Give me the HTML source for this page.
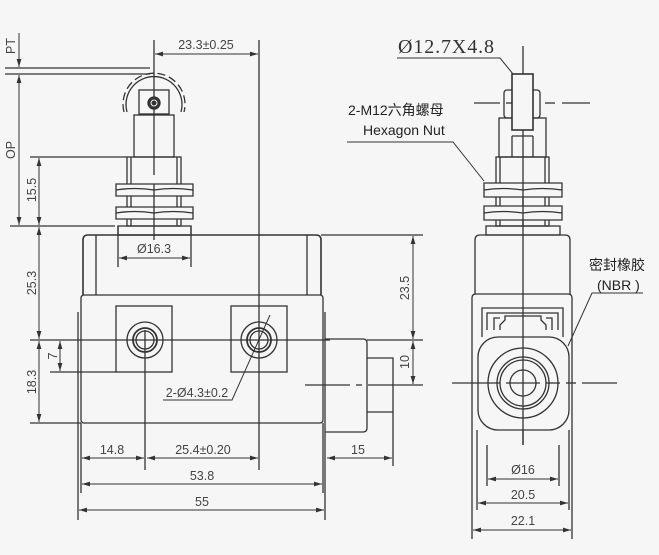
<!DOCTYPE html>
<html><head><meta charset="utf-8"><style>
html,body{margin:0;padding:0;background:#f6f6f6;}
svg{display:block}
.t{font-family:"Liberation Sans","DejaVu Sans",sans-serif;fill:#444;font-size:12.5px}
.c{font-family:"Liberation Sans","Noto Sans CJK SC",sans-serif;fill:#222;font-size:14px}
.s{font-family:"Liberation Serif","DejaVu Serif",serif;fill:#333;font-size:20px}
</style></head><body>
<svg width="659" height="555" viewBox="0 0 659 555" xmlns="http://www.w3.org/2000/svg">
<defs>
<marker id="a" viewBox="0 0 10 6" refX="10" refY="3" markerWidth="8" markerHeight="5" orient="auto-start-reverse" markerUnits="userSpaceOnUse"><path d="M0,0 L10,3 L0,6 z" fill="#333"/></marker>
</defs>
<rect width="659" height="555" fill="#f6f6f6"/>
<g stroke="#333" stroke-width="1.3" fill="none">
<line x1="154" y1="40" x2="154" y2="175"/>
<line x1="259" y1="40" x2="259" y2="470"/>
<line x1="155" y1="54" x2="258" y2="54" marker-start="url(#a)" marker-end="url(#a)" stroke-width="1"/>
<line x1="19" y1="33" x2="19" y2="67" marker-end="url(#a)" stroke-width="1"/>
<line x1="5" y1="68" x2="150" y2="68"/>
<line x1="5" y1="74" x2="150" y2="74"/>
<line x1="19" y1="75" x2="19" y2="225" marker-start="url(#a)" marker-end="url(#a)" stroke-width="1"/>
<line x1="10" y1="226" x2="115" y2="226"/>
<line x1="30" y1="157" x2="127" y2="157"/>
<line x1="39" y1="158" x2="39" y2="225" marker-start="url(#a)" marker-end="url(#a)" stroke-width="1"/>
<line x1="39" y1="227" x2="39" y2="339" marker-start="url(#a)" marker-end="url(#a)" stroke-width="1"/>
<line x1="39" y1="341" x2="39" y2="422" marker-start="url(#a)" marker-end="url(#a)" stroke-width="1"/>
<line x1="30" y1="340" x2="330" y2="340"/>
<line x1="30" y1="423" x2="81" y2="423"/>
<line x1="50" y1="372" x2="116" y2="372"/>
<line x1="60" y1="341" x2="60" y2="371" marker-start="url(#a)" marker-end="url(#a)" stroke-width="1"/>
<path d="M127,112 A28,28 0 1 1 181,112"/>
<path d="M124,112 A31,31 0 1 1 184,112" stroke-dasharray="8,4"/>
<rect x="139" y="90" width="30" height="24"/>
<circle cx="154" cy="103" r="6" fill="#333"/>
<circle cx="154" cy="103" r="3" stroke="#eee" stroke-width="1"/>
<rect x="134" y="115" width="40" height="42"/>
<rect x="127" y="157" width="54" height="69"/>
<line x1="131" y1="157" x2="131" y2="226"/><line x1="177" y1="157" x2="177" y2="226"/>
<path d="M116,184 L193,184 L193,196 L116,196 Z M116,190 Q135,187 154,190 Q173,187 193,190" fill="#f6f6f6"/>
<path d="M116,207 L193,207 L193,219 L116,219 Z M116,213 Q135,210 154,213 Q173,210 193,213" fill="#f6f6f6"/>
<line x1="154" y1="184" x2="154" y2="240"/>
<rect x="118" y="226" width="73" height="9"/>
<path d="M83,295 L83,240 Q83,235 88,235 L316,235 Q321,235 321,240 L321,295" stroke-width="1.6"/>
<line x1="96" y1="235" x2="96" y2="295"/><line x1="307" y1="235" x2="307" y2="295"/>
<line x1="321" y1="235" x2="423" y2="235"/>
<line x1="118" y1="226" x2="118" y2="267"/><line x1="191" y1="226" x2="191" y2="267"/>
<line x1="119" y1="258" x2="190" y2="258" marker-start="url(#a)" marker-end="url(#a)" stroke-width="1"/>
<rect x="81" y="295" width="242" height="128" rx="3"/>
<line x1="78" y1="312" x2="78" y2="520"/><line x1="325" y1="312" x2="325" y2="520"/>
<rect x="116" y="306" width="56" height="66"/>
<rect x="231" y="306" width="56" height="66"/>
<circle cx="145" cy="340" r="18"/><circle cx="145" cy="340" r="12" stroke-width="1.8"/><circle cx="145" cy="340" r="9"/>
<circle cx="259" cy="340" r="18"/><circle cx="259" cy="340" r="12" stroke-width="1.8"/><circle cx="259" cy="340" r="9"/>
<line x1="145" y1="330" x2="145" y2="470"/>
<path d="M270,315 L232,400 L163,400" stroke-width="1"/>
<path d="M325,339 L363,339 Q367,339 367,343 L367,428 Q367,432 363,432 L325,432"/>
<path d="M367,358 L393,358 L393,412 L367,412"/>
<line x1="305" y1="385" x2="350" y2="385"/><line x1="356" y1="385" x2="362" y2="385"/><line x1="368" y1="385" x2="423" y2="385"/>
<line x1="393" y1="412" x2="393" y2="466"/>
<line x1="413" y1="236" x2="413" y2="339" marker-start="url(#a)" marker-end="url(#a)" stroke-width="1"/>
<line x1="413" y1="341" x2="413" y2="384" marker-start="url(#a)" marker-end="url(#a)" stroke-width="1"/>
<line x1="367" y1="340" x2="423" y2="340"/>
<line x1="81" y1="423" x2="81" y2="493"/><line x1="323" y1="423" x2="323" y2="493"/>
<line x1="82" y1="458" x2="144" y2="458" marker-start="url(#a)" marker-end="url(#a)" stroke-width="1"/>
<line x1="147" y1="458" x2="258" y2="458" marker-start="url(#a)" marker-end="url(#a)" stroke-width="1"/>
<line x1="327" y1="458" x2="392" y2="458" marker-start="url(#a)" marker-end="url(#a)" stroke-width="1"/>
<line x1="82" y1="484" x2="322" y2="484" marker-start="url(#a)" marker-end="url(#a)" stroke-width="1"/>
<line x1="79" y1="510" x2="324" y2="510" marker-start="url(#a)" marker-end="url(#a)" stroke-width="1"/>

<line x1="523" y1="46" x2="523" y2="445"/>
<path d="M397,58 L500,58 L513,74" stroke-width="1"/>
<line x1="474" y1="103" x2="500" y2="103"/><line x1="506" y1="103" x2="512" y2="103"/><line x1="545" y1="103" x2="555" y2="103"/><line x1="562" y1="103" x2="590" y2="103"/>
<rect x="504" y="90" width="36" height="28" rx="3"/>
<rect x="499" y="118" width="47" height="39"/>
<rect x="512" y="74" width="21" height="56" fill="#f6f6f6" stroke-width="1.6"/>
<line x1="512" y1="136" x2="533" y2="136"/><line x1="512" y1="136" x2="512" y2="157"/><line x1="533" y1="136" x2="533" y2="157"/>
<rect x="496" y="157" width="53" height="69"/>
<line x1="500" y1="157" x2="500" y2="226"/><line x1="545" y1="157" x2="545" y2="226"/>
<path d="M484,183 L562,183 L562,197 L484,197 Z M484,190 Q503,187 523,190 Q543,187 562,190" fill="#f6f6f6"/>
<path d="M484,206 L562,206 L562,220 L484,220 Z M484,213 Q503,210 523,213 Q543,210 562,213" fill="#f6f6f6"/>
<line x1="523" y1="183" x2="523" y2="226"/>
<rect x="486" y="226" width="74" height="9"/>
<path d="M475,294 L475,240 Q475,235 480,235 L565,235 Q570,235 570,240 L570,294"/>
<path d="M472,539 L472,298 Q472,294 476,294 L568,294 Q572,294 572,298 L572,539"/>
<path d="M482,337 L482,308 L563,308 L563,337"/>
<path d="M487,330 L487,313 L558,313 L558,330"/>
<path d="M500,330 L500,325 L505,320 L505,316 L541,316 L541,320 L546,325 L546,330"/>
<path d="M494,330 L494,318 L500,318 M552,330 L552,318 L546,318"/>
<rect x="478" y="337" width="91" height="93" rx="20" fill="#f6f6f6"/>
<line x1="523" y1="337" x2="523" y2="445"/>
<circle cx="523" cy="383" r="35"/>
<circle cx="523" cy="383" r="26"/><circle cx="523" cy="383" r="23"/><circle cx="523" cy="383" r="13"/>
<line x1="452" y1="383" x2="500" y2="383"/><line x1="506" y1="383" x2="540" y2="383"/><line x1="546" y1="383" x2="560" y2="383"/><line x1="566" y1="383" x2="576" y2="383"/><line x1="582" y1="383" x2="617" y2="383"/>
<path d="M347,142 L453,142 L484,181" stroke-width="1"/>
<path d="M643,293 L592,293 L568,346" stroke-width="1"/>
<line x1="487" y1="445" x2="487" y2="486"/><line x1="559" y1="445" x2="559" y2="486"/>
<line x1="477" y1="430" x2="477" y2="510"/><line x1="569" y1="430" x2="569" y2="510"/>
<line x1="488" y1="479" x2="558" y2="479" marker-start="url(#a)" marker-end="url(#a)" stroke-width="1"/>
<line x1="478" y1="503" x2="568" y2="503" marker-start="url(#a)" marker-end="url(#a)" stroke-width="1"/>
<line x1="473" y1="530" x2="571" y2="530" marker-start="url(#a)" marker-end="url(#a)" stroke-width="1"/>
</g>
<text class="t" x="206" y="49" text-anchor="middle">23.3±0.25</text>
<text class="t" transform="translate(15,46) rotate(-90)" text-anchor="middle" font-size="11">PT</text>
<text class="t" transform="translate(15,150) rotate(-90)" text-anchor="middle" font-size="11">OP</text>
<text class="t" transform="translate(36,190) rotate(-90)" text-anchor="middle">15.5</text>
<text class="t" transform="translate(36,283) rotate(-90)" text-anchor="middle">25.3</text>
<text class="t" transform="translate(36,382) rotate(-90)" text-anchor="middle">18.3</text>
<text class="t" transform="translate(57,356) rotate(-90)" text-anchor="middle">7</text>
<text class="t" x="154" y="253" text-anchor="middle">Ø16.3</text>
<text class="t" x="197" y="397" text-anchor="middle">2-Ø4.3±0.2</text>
<text class="t" transform="translate(409,288) rotate(-90)" text-anchor="middle">23.5</text>
<text class="t" transform="translate(409,362) rotate(-90)" text-anchor="middle">10</text>
<text class="t" x="112" y="454" text-anchor="middle">14.8</text>
<text class="t" x="203" y="454" text-anchor="middle">25.4±0.20</text>
<text class="t" x="358" y="454" text-anchor="middle">15</text>
<text class="t" x="202" y="480" text-anchor="middle">53.8</text>
<text class="t" x="202" y="506" text-anchor="middle">55</text>
<text class="s" x="398" y="53" textLength="96" lengthAdjust="spacing">Ø12.7X4.8</text>
<text class="c" x="348" y="115">2-M12六角螺母</text>
<text class="c" x="363" y="135">Hexagon Nut</text>
<text class="c" x="589" y="270" font-size="15" fill="#555">密封橡胶</text>
<text class="c" x="597" y="290" font-size="15">(NBR )</text>
<text class="t" x="523" y="474" text-anchor="middle">Ø16</text>
<text class="t" x="523" y="499" text-anchor="middle">20.5</text>
<text class="t" x="523" y="525" text-anchor="middle">22.1</text>
</svg>
</body></html>
